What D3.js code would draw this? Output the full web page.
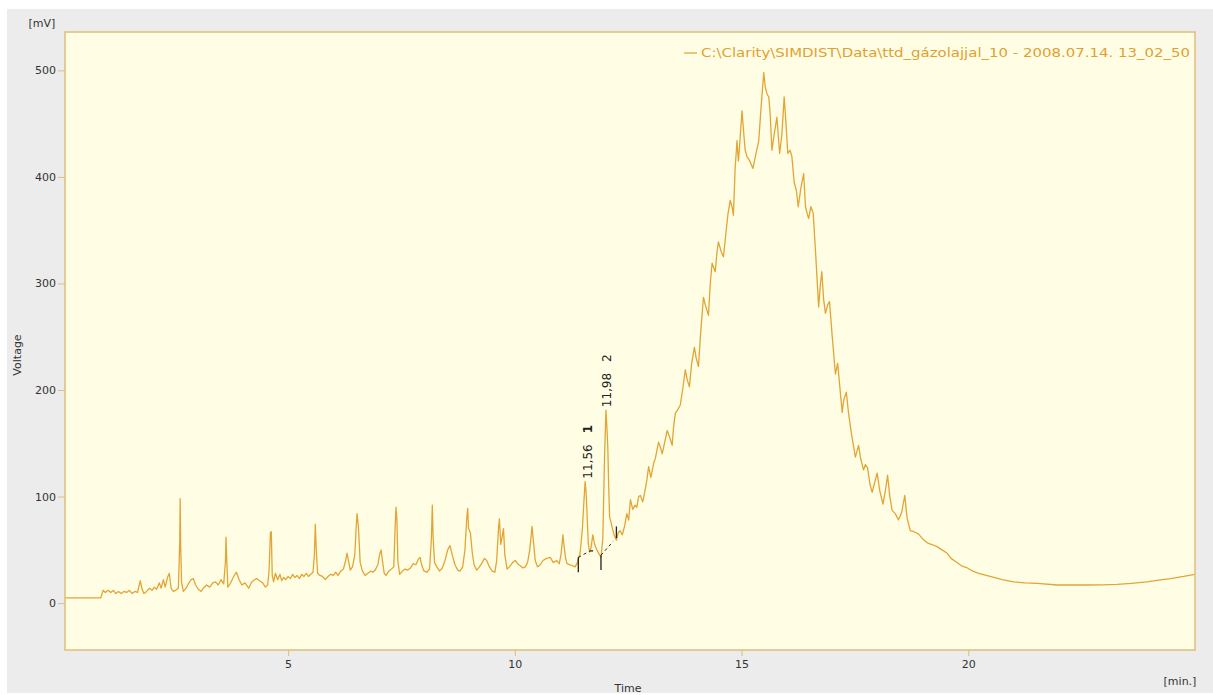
<!DOCTYPE html>
<html>
<meta charset="utf-8">
<head>
<script src="https://d3js.org/d3.v7.min.js"></script>
<style>
    body { margin: 0; background: #ffffff; }
    text { font-family: "DejaVu Sans", Verdana, sans-serif; }
    .tick text { font-size: 11px; fill: #333; }
</style>
</head>
<body>
<div id="chart"></div>
<script>
// chromatogram samples: time [min] and signal [mV]
var times = [0.08,0.87,0.92,0.97,1.03,1.09,1.15,1.2,1.26,1.32,1.38,1.44,1.5,1.56,1.62,1.68,1.74,1.78,1.82,1.88,
    1.94,2.0,2.05,2.1,2.16,2.2,2.25,2.29,2.34,2.38,2.42,2.47,2.52,2.58,2.61,2.62,2.63,2.65,2.69,2.75,
    2.8,2.86,2.91,2.96,3.02,3.08,3.13,3.2,3.27,3.34,3.4,3.46,3.52,3.58,3.62,3.63,3.65,3.67,3.72,3.8,
    3.86,3.92,3.98,4.05,4.13,4.2,4.26,4.31,4.37,4.44,4.5,4.55,4.58,4.61,4.63,4.65,4.68,4.72,4.77,4.82,
    4.86,4.9,4.95,5.0,5.05,5.1,5.15,5.2,5.25,5.3,5.35,5.4,5.45,5.5,5.55,5.58,5.6,5.62,5.65,5.7,
    5.76,5.82,5.88,5.94,6.0,6.05,6.1,6.16,6.22,6.27,6.3,6.34,6.37,6.42,6.47,6.5,6.52,6.55,6.59,6.64,
    6.7,6.76,6.82,6.87,6.92,6.98,7.02,7.05,7.08,7.12,7.16,7.22,7.28,7.33,7.36,7.38,7.4,7.42,7.46,7.52,
    7.58,7.64,7.7,7.76,7.82,7.87,7.91,7.95,8.0,8.06,8.12,8.16,8.18,8.2,8.23,8.28,8.34,8.4,8.46,8.52,
    8.57,8.62,8.68,8.74,8.79,8.85,8.9,8.94,8.96,8.98,9.02,9.06,9.1,9.16,9.22,9.28,9.33,9.38,9.44,9.5,
    9.56,9.6,9.64,9.66,9.69,9.72,9.75,9.78,9.83,9.88,9.95,10.01,10.06,10.12,10.18,10.23,10.28,10.33,10.38,10.41,
    10.45,10.5,10.56,10.62,10.7,10.78,10.85,10.92,10.98,11.02,11.06,11.09,11.12,11.15,11.22,11.28,11.33,11.38,11.44,11.49,
    11.53,11.55,11.57,11.59,11.62,11.65,11.68,11.72,11.76,11.81,11.86,11.9,11.94,11.98,12.01,12.03,12.05,12.07,12.09,12.12,
    12.14,12.19,12.24,12.28,12.32,12.37,12.42,12.47,12.51,12.55,12.6,12.65,12.69,12.73,12.77,12.82,12.86,12.91,12.95,13.0,
    13.06,13.1,13.17,13.22,13.25,13.3,13.36,13.42,13.47,13.5,13.54,13.6,13.65,13.7,13.76,13.8,13.85,13.9,13.96,14.0,
    14.05,14.1,14.16,14.2,14.27,14.31,14.35,14.42,14.46,14.49,14.55,14.6,14.65,14.7,14.75,14.79,14.82,14.86,14.9,14.93,
    14.95,15.01,15.05,15.08,15.12,15.18,15.25,15.3,15.38,15.43,15.49,15.52,15.56,15.6,15.63,15.67,15.72,15.78,15.84,15.89,
    15.94,15.98,16.02,16.07,16.11,16.16,16.21,16.25,16.31,16.37,16.41,16.45,16.48,16.53,16.58,16.63,16.7,16.74,16.77,16.81,
    16.85,16.9,16.94,17.0,17.07,17.12,17.18,17.22,17.25,17.31,17.36,17.42,17.51,17.58,17.63,17.69,17.73,17.78,17.83,17.88,
    17.93,17.99,18.05,18.12,18.17,18.22,18.27,18.32,18.39,18.46,18.53,18.6,18.65,18.72,18.8,18.9,19.0,19.12,19.2,19.31,
    19.42,19.53,19.62,19.72,19.85,19.98,20.1,20.23,20.48,20.75,21.0,21.25,21.52,21.96,22.3,22.62,22.95,23.28,23.6,23.94,
    24.2,24.46,24.75,25.0];
var volts = [5,5,12,10,12,10,12,9,11,9,11,10,12,9,11,10,21,13,9,11,
    14,12,15,13,19,14,22,15,24,28,14,11,12,14,56,98,56,20,11,14,
    18,22,23,17,13,11,14,17,15,19,20,17,22,18,40,62,38,15,18,25,
    29,22,17,19,14,20,22,23,21,19,15,17,30,66,67,26,20,28,22,27,
    21,24,22,25,23,27,24,26,23,27,25,28,25,27,29,46,74,52,28,26,
    25,22,25,27,26,29,26,30,32,40,47,38,31,34,45,70,84,72,38,30,
    26,28,30,29,31,36,46,50,40,28,26,30,32,34,70,90,78,40,27,30,
    32,31,33,37,36,41,43,35,30,29,32,60,92,60,38,34,30,33,40,50,
    54,45,36,31,30,34,50,80,89,70,66,48,36,31,34,38,42,40,34,30,
    29,40,70,79,55,62,70,45,32,34,38,40,37,35,33,34,38,50,72,58,
    40,34,36,40,42,43,38,40,37,46,64,52,42,37,36,35,34,38,47,70,
    100,114,105,87,56,48,52,64,55,50,46,43,60,140,181,165,147,110,81,76,
    72,64,59,66,68,64,72,84,78,97,88,92,90,100,101,95,103,115,128,118,
    131,136,151,145,140,150,162,155,148,165,178,182,186,200,219,210,203,225,240,230,
    222,255,287,280,270,300,319,311,330,339,330,325,345,365,378,372,364,409,434,415,
    425,462,440,425,419,415,408,418,434,465,498,485,478,475,460,425,440,456,422,440,
    475,450,422,425,419,395,387,372,390,403,372,365,361,372,366,331,278,300,311,285,
    272,280,283,250,215,225,197,179,190,198,178,160,137,148,135,125,130,127,112,104,
    112,122,105,93,105,120,100,87,84,78,85,101,80,68,67,65,60,56,55,53,
    50,47,42,39,35,33,30,28,25,22,20,19,18.5,17,17,17,17.2,17.5,18.5,20,
    21.5,23,25,27];

// integrated peaks: retention time, number, apex, baseline start/end
var peakTimes = [11.56, 11.98];
var peakLabels = ["11,56", "11,98"];
var peakNums = ["1", "2"];
var peakApex = [114, 181];
var baseStartT = [11.40, 11.90];
var baseStartV = [43, 45];
var baseEndT = [11.66, 12.17];
var baseEndV = [49, 58];

var yTicks = [0, 100, 200, 300, 400, 500];
var xTicks = [5, 10, 15, 20];
var legendText = "C:\\Clarity\\SIMDIST\\Data\\ttd_gázolajjal_10 - 2008.07.14. 13_02_50";

var W = 1213, H = 695;
var margin = {top: 32, right: 18, bottom: 45, left: 65};
var lineColor = "#e2a535", frameColor = "#e0bd78";

var svg = d3.select("#chart").append("svg")
    .attr("width", W)
    .attr("height", H);

// grey panel
svg.append("rect")
    .attr("x", 7).attr("y", 9)
    .attr("width", W - 7).attr("height", 684)
    .attr("fill", "#ececec");

var x = d3.scaleLinear().domain([0.08, 25.0]).range([margin.left, W - margin.right]);
var y = d3.scaleLinear().domain([-44, 536]).range([H - margin.bottom, margin.top]);

// plot area
svg.append("rect")
    .attr("x", margin.left).attr("y", margin.top)
    .attr("width", W - margin.right - margin.left)
    .attr("height", H - margin.bottom - margin.top)
    .attr("fill", "#fffee5");

svg.append("clipPath").attr("id", "clip")
    .append("rect")
    .attr("x", margin.left).attr("y", margin.top)
    .attr("width", W - margin.right - margin.left)
    .attr("height", H - margin.bottom - margin.top);

var data = times.map(function(t, i) { return {t: t, v: volts[i]}; });

var line = d3.line()
    .x(function(d) { return x(d.t); })
    .y(function(d) { return y(d.v); });

svg.append("path")
    .datum(data)
    .attr("clip-path", "url(#clip)")
    .attr("fill", "none")
    .attr("stroke", lineColor)
    .attr("stroke-width", 1.3)
    .attr("stroke-linejoin", "round")
    .attr("d", line);

// peak baselines and markers
peakTimes.forEach(function(pt, i) {
    svg.append("line")
        .attr("x1", x(baseStartT[i])).attr("y1", y(baseStartV[i]))
        .attr("x2", x(baseEndT[i])).attr("y2", y(baseEndV[i]))
        .attr("stroke", "#222").attr("stroke-width", 1)
        .attr("stroke-dasharray", "3,3");
});
// start ticks hang below the baseline, end tick of peak 2 sits above
svg.append("line")
    .attr("x1", x(baseStartT[0])).attr("x2", x(baseStartT[0]))
    .attr("y1", y(baseStartV[0])).attr("y2", y(baseStartV[0] - 14))
    .attr("stroke", "#222").attr("stroke-width", 1.3);
svg.append("line")
    .attr("x1", x(baseStartT[1])).attr("x2", x(baseStartT[1]))
    .attr("y1", y(baseStartV[1])).attr("y2", y(baseStartV[1] - 14))
    .attr("stroke", "#222").attr("stroke-width", 1.3);
svg.append("line")
    .attr("x1", x(baseEndT[0])).attr("x2", x(baseEndT[0]) + 3)
    .attr("y1", y(baseEndV[0])).attr("y2", y(baseEndV[0]))
    .attr("stroke", "#222").attr("stroke-width", 1.3);
svg.append("line")
    .attr("x1", x(12.24)).attr("x2", x(12.24))
    .attr("y1", y(61)).attr("y2", y(72))
    .attr("stroke", "#222").attr("stroke-width", 1.3);

// rotated peak labels
peakTimes.forEach(function(pt, i) {
    var px = x(pt) + 2, py = y(peakApex[i]) - 3;
    var lab = svg.append("text")
        .attr("transform", "translate(" + px + "," + py + ") rotate(-90)")
        .attr("dominant-baseline", "central")
        .style("font-size", "12px")
        .attr("fill", "#222")
        .text(peakLabels[i]);
    lab.append("tspan")
        .attr("dx", 11)
        .style("font-weight", i === 0 ? "bold" : "normal")
        .text(peakNums[i]);
});

// frame
svg.append("rect")
    .attr("x", margin.left).attr("y", margin.top)
    .attr("width", W - margin.right - margin.left)
    .attr("height", H - margin.bottom - margin.top)
    .attr("fill", "none")
    .attr("stroke", frameColor)
    .attr("stroke-width", 1.5);

// axes
var yAxis = svg.append("g")
    .attr("transform", "translate(" + margin.left + ",0)")
    .call(d3.axisLeft(y).tickValues(yTicks).tickSize(7).tickPadding(2));
var xAxis = svg.append("g")
    .attr("transform", "translate(0," + (H - margin.bottom) + ")")
    .call(d3.axisBottom(x).tickValues(xTicks).tickSize(6).tickPadding(4));
[xAxis, yAxis].forEach(function(a) {
    a.select(".domain").remove();
    a.selectAll(".tick line").attr("stroke", frameColor);
});

// axis titles and units
svg.append("text")
    .attr("x", 42).attr("y", 27)
    .attr("text-anchor", "middle")
    .style("font-size", "11px").attr("fill", "#333")
    .text("[mV]");
svg.append("text")
    .attr("transform", "translate(21,355) rotate(-90)")
    .attr("text-anchor", "middle")
    .style("font-size", "11px").attr("fill", "#333")
    .text("Voltage");
svg.append("text")
    .attr("x", 628).attr("y", 692)
    .attr("text-anchor", "middle")
    .style("font-size", "11px").attr("fill", "#333")
    .text("Time");
svg.append("text")
    .attr("x", 1180).attr("y", 685)
    .attr("text-anchor", "middle")
    .style("font-size", "11px").attr("fill", "#333")
    .text("[min.]");

// legend
svg.append("line")
    .attr("x1", 684).attr("x2", 697)
    .attr("y1", 53).attr("y2", 53)
    .attr("stroke", lineColor).attr("stroke-width", 1.3);
svg.append("text")
    .attr("x", 701).attr("y", 57)
    .style("font-size", "12.5px")
    .attr("fill", "#e2a030")
    .attr("textLength", 489)
    .attr("lengthAdjust", "spacingAndGlyphs")
    .text(legendText);
</script>
</body>
</html>
